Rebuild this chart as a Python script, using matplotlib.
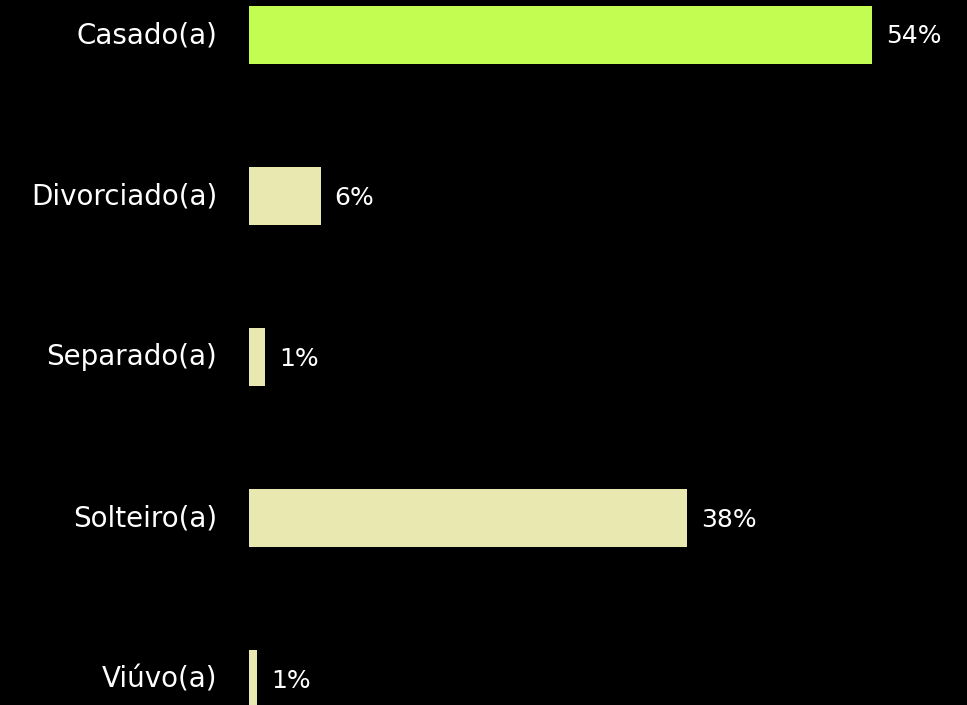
import matplotlib
matplotlib.use("Agg")
import matplotlib.pyplot as plt
from matplotlib.transforms import ScaledTranslation

# estado civil
categorias = ['Casado(a)', 'Divorciado(a)', 'Separado(a)', 'Solteiro(a)', 'Viúvo(a)']
valores = [54.0, 6.2, 1.4, 38.0, 0.7]
cores = ['#c3fd52', '#e8e8b0', '#e8e8b0', '#e8e8b0', '#e8e8b0']

plt.rcParams['font.family'] = ['DejaVu Sans']

fig = plt.figure(figsize=(9.67, 7.05), dpi=100, facecolor='black')
ax = fig.add_axes([249 / 967, 0, 1 - 249 / 967, 1], facecolor='black')

pos = range(len(categorias))
ax.barh(pos, valores, height=0.36, color=cores)

for p, v in zip(pos, valores):
    ax.annotate(f'{v:.0f}%', xy=(v, p), xytext=(10, -1), textcoords='offset points',
                va='center', ha='left', color='white', fontsize=18)

ax.set_yticks(list(pos))
ax.set_yticklabels(categorias, color='white', fontsize=20)
ax.tick_params(axis='y', length=0, pad=23)
# subir um pouco os rótulos
desloc = ScaledTranslation(0, 3 / 100, fig.dpi_scale_trans)
for t in ax.get_yticklabels():
    t.set_transform(t.get_transform() + desloc)
ax.set_xticks([])
ax.set_xlim(0, 54 * (967 - 249) / 623)
ax.set_ylim(4 + 25.5 / 161, -35 / 161)
for s in ax.spines.values():
    s.set_visible(False)

plt.savefig('out.png', dpi=100, facecolor='black')
